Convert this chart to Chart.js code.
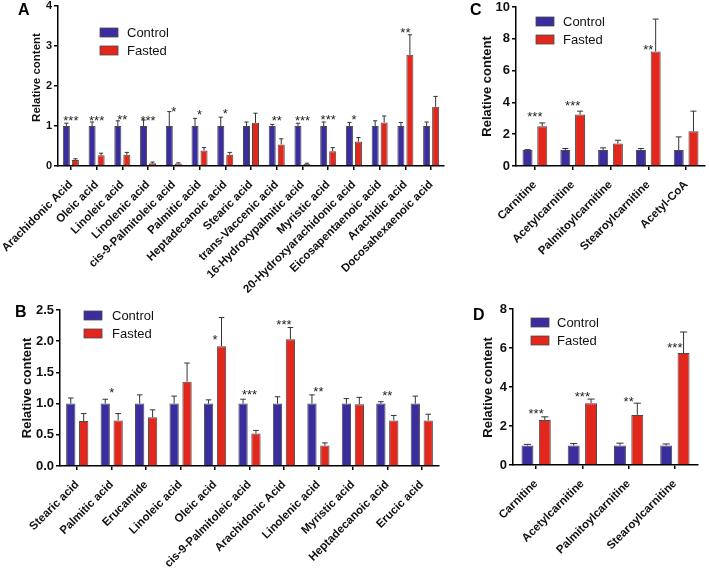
<!DOCTYPE html>
<html>
<head>
<meta charset="utf-8">
<script src="https://cdn.jsdelivr.net/npm/chart.js@4.4.1/dist/chart.umd.min.js"></script>
<style>
  body { margin: 0; background: #fff; }
  #wrap { position: relative; width: 709px; height: 569px; overflow: hidden; background: #fff; }
  canvas { position: absolute; }
</style>
</head>
<body>
<div id="wrap">
  <canvas id="chartB" width="450" height="289" style="left:0;top:280px"></canvas>
  <canvas id="chartD" width="254" height="289" style="left:455px;top:280px"></canvas>
  <canvas id="chartA" width="455" height="310" style="left:0;top:0"></canvas>
  <canvas id="chartC" width="249" height="310" style="left:460px;top:0"></canvas>
</div>
<script>
// Panel A
const aLabels = ["Arachidonic Acid", "Oleic acid", "Linoleic acid", "Linolenic acid", "cis-9-Palmitoleic acid",
  "Palmitic acid", "Heptadecanoic acid", "Stearic acid", "trans-Vaccenic acid", "16-Hydroxypalmitic acid",
  "Myristic acid", "20-Hydroxyarachidonic acid", "Eicosapentaenoic acid", "Arachidic acid", "Docosahexaenoic acid"];
const aControl = [1, 1, 1, 1, 1, 1, 1, 1, 1, 1, 1, 1, 1, 1, 1];
const aControlErr = [0.07, 0.1, 0.13, 0.15, 0.36, 0.19, 0.22, 0.1, 0.04, 0.07, 0.1, 0.09, 0.13, 0.09, 0.1];
const aFasted = [0.15, 0.27, 0.28, 0.07, 0.06, 0.39, 0.28, 1.08, 0.54, 0.05, 0.37, 0.61, 1.09, 2.78, 1.48];
const aFastedErr = [0.03, 0.05, 0.06, 0.03, 0.02, 0.07, 0.06, 0.24, 0.14, 0.02, 0.09, 0.1, 0.16, 0.5, 0.26];
const aSig = ["***", "***", "**", "***", "*", "*", "*", "", "**", "***", "***", "*", "", "**", ""];
const aSigAt = [1.22, 1.22, 1.24, 1.22, 1.45, 1.37, 1.4, null, 1.21, 1.21, 1.25, 1.25, null, 3.42, null];

// Panel B
const bLabels = ["Stearic acid", "Palmitic acid", "Erucamide", "Linoleic acid", "Oleic acid", "cis-9-Palmitoleic acid",
  "Arachidonic Acid", "Linolenic acid", "Myristic acid", "Heptadecanoic acid", "Erucic acid"];
const bControl = [1, 1, 1, 1, 1, 1, 1, 1, 1, 1, 1];
const bControlErr = [0.09, 0.07, 0.14, 0.12, 0.06, 0.07, 0.11, 0.14, 0.08, 0.03, 0.12];
const bFasted = [0.72, 0.73, 0.78, 1.35, 1.92, 0.52, 2.03, 0.33, 0.99, 0.73, 0.73];
const bFastedErr = [0.12, 0.11, 0.12, 0.3, 0.46, 0.05, 0.19, 0.04, 0.11, 0.08, 0.1];
const bSig = ["", "*", "", "", "*", "***", "***", "**", "", "**", ""];
const bSigAt = [null, 1.22, null, null, 2.07, 1.2, 2.31, 1.25, null, 1.17, null];

// Panel C
const cLabels = ["Carnitine", "Acetylcarnitine", "Palmitoylcarnitine", "Stearoylcarnitine", "Acetyl-CoA"];
const cControl = [1, 1, 1, 1, 1];
const cControlErr = [0.03, 0.1, 0.14, 0.1, 0.83];
const cFasted = [2.5, 3.24, 1.41, 7.2, 2.19];
const cFastedErr = [0.21, 0.21, 0.21, 2.04, 1.26];
const cSig = ["***", "***", "", "**", ""];
const cSigAt = [3.33, 3.98, null, 7.5, null];

// Panel D
const dLabels = ["Carnitine", "Acetylcarnitine", "Palmitoylcarnitine", "Stearoylcarnitine"];
const dControl = [1, 1, 1, 1];
const dControlErr = [0.06, 0.1, 0.12, 0.08];
const dFasted = [2.31, 3.17, 2.57, 5.74];
const dFastedErr = [0.16, 0.21, 0.6, 1.08];
const dSig = ["***", "***", "**", "***"];
const dSigAt = [2.77, 3.65, 3.39, 6.17];

const CONTROL_COLOR = "#3a2e9f";
const FASTED_COLOR = "#e2271c";
const EDGE_COLOR = "#4a4a4a";

Chart.defaults.font.family = "Arial, 'Liberation Sans', Helvetica, sans-serif";
Chart.defaults.color = "#111";

// error bars, stars, legend, panel letter and y title
const decorPlugin = {
  id: "decor",
  afterDatasetsDraw(chart, args, opts) {
    const ctx = chart.ctx;
    const yScale = chart.scales.y;
    ctx.save();
    ctx.strokeStyle = "#333";
    ctx.lineWidth = 1;
    opts.errors.forEach((errs, di) => {
      const meta = chart.getDatasetMeta(di);
      const values = chart.data.datasets[di].data;
      meta.data.forEach((bar, i) => {
        const top = yScale.getPixelForValue(values[i] + errs[i]);
        const half = bar.width * 0.3;
        ctx.beginPath();
        ctx.moveTo(bar.x, bar.y);
        ctx.lineTo(bar.x, top);
        ctx.moveTo(bar.x - half, top);
        ctx.lineTo(bar.x + half, top);
        ctx.stroke();
      });
    });

    ctx.fillStyle = "#222";
    ctx.font = "13px Arial, 'Liberation Sans', sans-serif";
    ctx.textAlign = "center";
    ctx.textBaseline = "alphabetic";
    const xScale = chart.scales.x;
    opts.sig.forEach((s, i) => {
      if (!s) return;
      const x = xScale.getPixelForValue(i);
      const y = yScale.getPixelForValue(opts.sigAt[i]);
      ctx.fillText(s, x, y + 7.5);
    });
    ctx.restore();
  },
  afterDraw(chart, args, opts) {
    const ctx = chart.ctx;
    ctx.save();
    // legend
    const lg = opts.legend;
    [["Control", CONTROL_COLOR], ["Fasted", FASTED_COLOR]].forEach(([name, color], k) => {
      const top = lg.y + k * 18;
      ctx.fillStyle = color;
      ctx.fillRect(lg.x, top, 18, 9);
      ctx.strokeStyle = EDGE_COLOR;
      ctx.lineWidth = 0.8;
      ctx.strokeRect(lg.x, top, 18, 9);
      ctx.fillStyle = "#111";
      ctx.font = "13px Arial, 'Liberation Sans', sans-serif";
      ctx.textAlign = "left";
      ctx.textBaseline = "middle";
      ctx.fillText(name, lg.textX, top + 5);
    });

    // panel letter
    ctx.fillStyle = "#000";
    ctx.font = "bold 16px Arial, 'Liberation Sans', sans-serif";
    ctx.textAlign = "left";
    ctx.textBaseline = "alphabetic";
    ctx.fillText(opts.letter, opts.letterPos[0], opts.letterPos[1]);

    // y axis title
    ctx.translate(opts.titlePos[0], opts.titlePos[1]);
    ctx.rotate(-Math.PI / 2);
    ctx.font = "bold " + opts.titleSize + "px Arial, 'Liberation Sans', sans-serif";
    ctx.textAlign = "center";
    ctx.textBaseline = "middle";
    ctx.fillStyle = "#111";
    ctx.fillText("Relative content", 0, 0);
    ctx.restore();
  }
};
Chart.register(decorPlugin);

function drawPanel(id, p) {
  const canvas = document.getElementById(id);
  return new Chart(canvas, {
    type: "bar",
    data: {
      labels: p.labels,
      datasets: [
        {
          label: "Control",
          data: p.control,
          backgroundColor: CONTROL_COLOR,
          borderColor: EDGE_COLOR,
          borderWidth: 1,
          categoryPercentage: p.catPct,
          barPercentage: p.barPct
        },
        {
          label: "Fasted",
          data: p.fasted,
          backgroundColor: FASTED_COLOR,
          borderColor: EDGE_COLOR,
          borderWidth: 1,
          categoryPercentage: p.catPct,
          barPercentage: p.barPct
        }
      ]
    },
    options: {
      responsive: false,
      animation: false,
      layout: { padding: p.padding },
      plugins: {
        legend: { display: false },
        tooltip: { enabled: false },
        decor: {
          errors: [p.controlErr, p.fastedErr],
          sig: p.sig,
          sigAt: p.sigAt,
          legend: p.legend,
          letter: p.letter,
          letterPos: p.letterPos,
          titlePos: p.titlePos,
          titleSize: p.titleSize
        }
      },
      scales: {
        x: {
          grid: {
            display: true,
            offset: false,
            drawOnChartArea: false,
            drawTicks: true,
            tickLength: 4,
            color: "#000",
            lineWidth: 1.5
          },
          border: { display: true, color: "#000", width: 1.5 },
          ticks: {
            autoSkip: false,
            minRotation: 45,
            maxRotation: 45,
            padding: 8,
            color: "#111",
            font: { size: 11.5, weight: "bold" }
          },
          afterFit(scale) {
            scale.height = p.xHeight;
            scale.paddingLeft = 0;
            scale.paddingRight = 0;
          }
        },
        y: {
          min: 0,
          max: p.yMax,
          grid: {
            display: true,
            drawOnChartArea: false,
            drawTicks: true,
            tickLength: 4,
            color: "#000",
            lineWidth: 1.5
          },
          border: { display: true, color: "#000", width: 1.5 },
          ticks: {
            stepSize: p.yStep,
            padding: 2,
            color: "#111",
            font: { size: p.tickSize, weight: "bold" },
            callback: (v) => p.yDecimals ? v.toFixed(p.yDecimals) : v
          },
          afterFit(scale) {
            scale.width = p.yWidth;
            scale.paddingTop = 0;
            scale.paddingBottom = 0;
          }
        }
      }
    }
  });
}

drawPanel("chartA", {
  labels: aLabels, control: aControl, controlErr: aControlErr, fasted: aFasted, fastedErr: aFastedErr,
  sig: aSig, sigAt: aSigAt, yMax: 4, yStep: 1, yDecimals: 0, tickSize: 11,
  catPct: 0.7, barPct: 0.78,
  padding: { left: 29, top: 6, right: 11, bottom: 0 }, yWidth: 29, xHeight: 144,
  legend: { x: 100, y: 28, textX: 127 },
  letter: "A", letterPos: [18, 15], titlePos: [37, 77.5], titleSize: 11.5
});

drawPanel("chartC", {
  labels: cLabels, control: cControl, controlErr: cControlErr, fasted: cFasted, fastedErr: cFastedErr,
  sig: cSig, sigAt: cSigAt, yMax: 10, yStep: 2, yDecimals: 0, tickSize: 13,
  catPct: 0.78, barPct: 0.68,
  padding: { left: 17, top: 7, right: 4, bottom: 0 }, yWidth: 39, xHeight: 144,
  legend: { x: 76, y: 17, textX: 103 },
  letter: "C", letterPos: [10, 15], titlePos: [27, 86.5], titleSize: 13
});

drawPanel("chartB", {
  labels: bLabels, control: bControl, controlErr: bControlErr, fasted: bFasted, fastedErr: bFastedErr,
  sig: bSig, sigAt: bSigAt, yMax: 2.5, yStep: 0.5, yDecimals: 1, tickSize: 13,
  catPct: 0.75, barPct: 0.72,
  padding: { left: 17, top: 30, right: 11, bottom: 0 }, yWidth: 43, xHeight: 103,
  legend: { x: 84, y: 31, textX: 112 },
  letter: "B", letterPos: [15, 37], titlePos: [27, 108], titleSize: 13
});

drawPanel("chartD", {
  labels: dLabels, control: dControl, controlErr: dControlErr, fasted: dFasted, fastedErr: dFastedErr,
  sig: dSig, sigAt: dSigAt, yMax: 8, yStep: 2, yDecimals: 0, tickSize: 13,
  catPct: 0.75, barPct: 0.69,
  padding: { left: 23, top: 29, right: 11, bottom: 0 }, yWidth: 35, xHeight: 104,
  legend: { x: 76, y: 38, textX: 102 },
  letter: "D", letterPos: [18, 39.5], titlePos: [33, 107.5], titleSize: 13
});
</script>
</body>
</html>
